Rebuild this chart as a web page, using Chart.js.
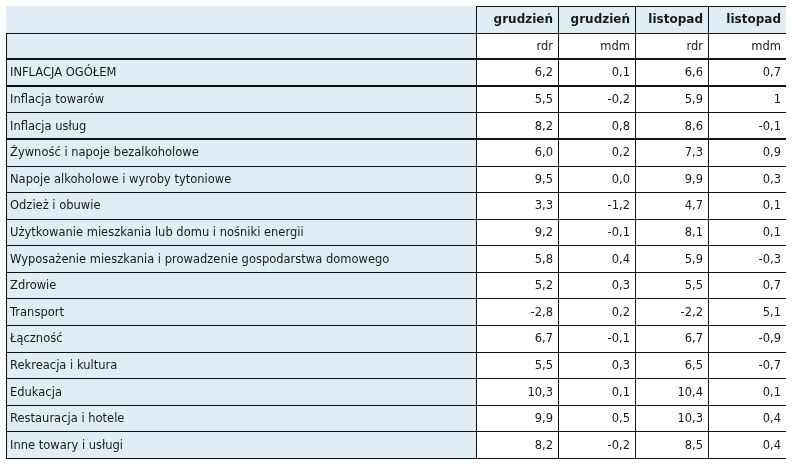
<!DOCTYPE html>
<html>
<head>
<meta charset="utf-8">
<script src="https://cdn.jsdelivr.net/npm/chart.js@4"></script>
<style>
  html, body { margin: 0; padding: 0; background: #ffffff; }
  #wrap { position: relative; width: 793px; height: 472px; }
</style>
</head>
<body>
<div id="wrap"><canvas id="c"></canvas></div>
<script>
// ---- data ----
const categories = [
  "INFLACJA OGÓŁEM",
  "Inflacja towarów",
  "Inflacja usług",
  "Żywność i napoje bezalkoholowe",
  "Napoje alkoholowe i wyroby tytoniowe",
  "Odzież i obuwie",
  "Użytkowanie mieszkania lub domu i nośniki energii",
  "Wyposażenie mieszkania i prowadzenie gospodarstwa domowego",
  "Zdrowie",
  "Transport",
  "Łączność",
  "Rekreacja i kultura",
  "Edukacja",
  "Restauracja i hotele",
  "Inne towary i usługi"
];
const monthLabels = ["grudzień", "grudzień", "listopad", "listopad"];
const measureLabels = ["rdr", "mdm", "rdr", "mdm"];
const grudzienRdr = [6.2, 5.5, 8.2, 6.0, 9.5, 3.3, 9.2, 5.8, 5.2, -2.8, 6.7, 5.5, 10.3, 9.9, 8.2];
const grudzienMdm = [0.1, -0.2, 0.8, 0.2, 0.0, -1.2, -0.1, 0.4, 0.3, 0.2, -0.1, 0.3, 0.1, 0.5, -0.2];
const listopadRdr = [6.6, 5.9, 8.6, 7.3, 9.9, 4.7, 8.1, 5.9, 5.5, -2.2, 6.7, 6.5, 10.4, 10.3, 8.5];
const listopadMdm = [0.7, 1, -0.1, 0.9, 0.3, 0.1, 0.1, -0.3, 0.7, 5.1, -0.9, -0.7, 0.1, 0.4, 0.4];
// decimals shown per series (null = as given)
const seriesDecimals = [1, 1, 1, null];

// ---- layout (styles / positions) ----
const series = [grudzienRdr, grudzienMdm, listopadRdr, listopadMdm];
const rowKeys = ["__h1", "__h2"].concat(categories);
const colEdges = [0, 470, 552, 629, 702, 780]; // in x-scale units
const thickAtRowTop = [2, 3, 5];
const BLUE = "#e1edf5";
const LINE = "#111111";
const TEXT = "#1a1a1a";
const FONT = "'DejaVu Sans', Verdana, sans-serif";

function fmt(v, d) {
  const s = (d === null) ? String(v) : v.toFixed(d);
  return s.replace(".", ",");
}

const tablePlugin = {
  id: "tablePlugin",
  afterDraw(chart) {
    const ctx = chart.ctx;
    const xs = chart.scales.x, ys = chart.scales.y;
    const X = colEdges.map(e => Math.round(xs.getPixelForValue(e)));
    const n = rowKeys.length;
    const h = (ys.getPixelForValue(1) - ys.getPixelForValue(0));
    const rowTop = r => Math.round(ys.getPixelForValue(r) - h / 2);
    const rowMid = r => ys.getPixelForValue(r);
    ctx.save();
    // backgrounds
    for (let r = 0; r < n; r++) {
      const t = rowTop(r), b = rowTop(r + 1);
      ctx.fillStyle = BLUE;
      ctx.fillRect(X[0], t, X[1] - X[0], b - t);
      ctx.fillStyle = r === 0 ? BLUE : "#ffffff";
      ctx.fillRect(X[1], t, X[5] - X[1], b - t);
    }
    // horizontal lines
    ctx.strokeStyle = LINE;
    for (let r = 0; r <= n; r++) {
      const y = rowTop(r);
      const thick = thickAtRowTop.indexOf(r) >= 0;
      ctx.lineWidth = thick ? 2 : 1;
      const yy = thick ? y : y + 0.5;
      ctx.beginPath();
      ctx.moveTo(r === 0 ? X[1] : X[0], yy);
      ctx.lineTo(X[5], yy);
      ctx.stroke();
    }
    // vertical lines
    ctx.lineWidth = 1;
    const top0 = rowTop(0), top1 = rowTop(1), bot = rowTop(n);
    ctx.beginPath();
    ctx.moveTo(X[0] + 0.5, top1); ctx.lineTo(X[0] + 0.5, bot + 1);
    for (let c = 1; c <= 4; c++) {
      ctx.moveTo(X[c] + 0.5, top0); ctx.lineTo(X[c] + 0.5, bot + 1);
    }
    ctx.stroke();
    // texts
    ctx.textBaseline = "middle";
    ctx.fillStyle = TEXT;
    // header row 1
    ctx.font = "bold 12px " + FONT;
    ctx.textAlign = "right";
    monthLabels.forEach((m, c) => ctx.fillText(m, X[c + 2] - 5, rowMid(0) + 1));
    ctx.font = "11.5px " + FONT;
    measureLabels.forEach((m, c) => ctx.fillText(m, X[c + 2] - 5, rowMid(1) + 1));
    // body
    categories.forEach((cat, i) => {
      const r = i + 2;
      ctx.textAlign = "left";
      ctx.fillText(cat, X[0] + 4, rowMid(r) + 1);
      ctx.textAlign = "right";
      series.forEach((s, c) => ctx.fillText(fmt(s[i], seriesDecimals[c]), X[c + 2] - 5, rowMid(r) + 1));
    });
    ctx.restore();
  }
};

new Chart(document.getElementById("c"), {
  type: "bar",
  data: { labels: rowKeys, datasets: [] },
  options: {
    indexAxis: "y",
    responsive: true,
    maintainAspectRatio: false,
    animation: false,
    events: [],
    layout: { padding: { left: 6, top: 6, right: 7, bottom: 14 } },
    plugins: { legend: { display: false }, tooltip: { enabled: false } },
    scales: {
      x: { type: "linear", min: colEdges[0], max: colEdges[colEdges.length - 1], display: false },
      y: { type: "category", offset: true, display: false }
    }
  },
  plugins: [tablePlugin]
});
</script>
</body>
</html>
